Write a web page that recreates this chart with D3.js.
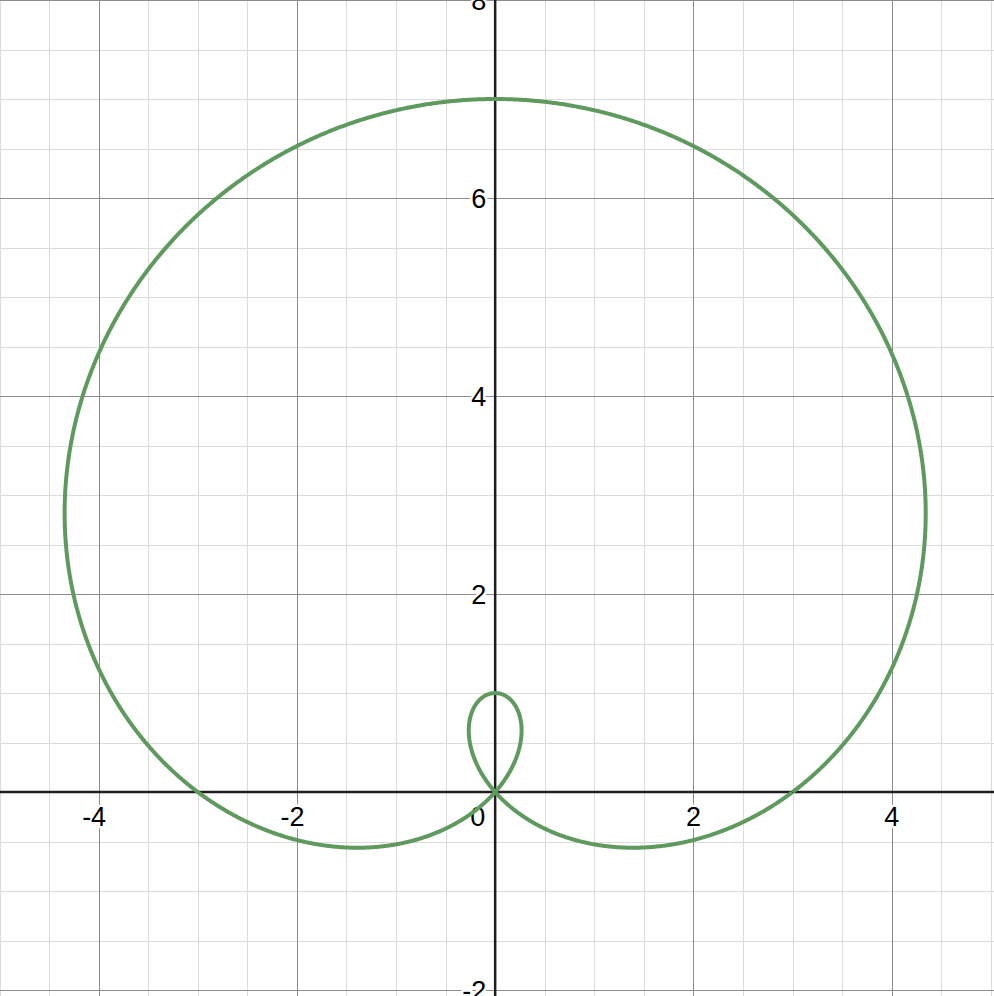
<!DOCTYPE html>
<html><head><meta charset="utf-8">
<script src="https://cdn.jsdelivr.net/npm/d3@7"></script>
<style>html,body{margin:0;padding:0;background:#fff;overflow:hidden}</style>
</head><body>
<svg id="c" width="994" height="996"></svg>
<script>
// Polar curve r = a + b·sin(θ) (limaçon with inner loop)
const curveA = 3;
const curveB = 4;
const xTicks = [-4, -2, 2, 4];
const yTicks = [-2, 2, 4, 6, 8];
const xDomain = [-4.995, 5.032];
const yDomain = [8.0, -2.06];

const W = 994, H = 996;
const svg = d3.select("#c");
const x = d3.scaleLinear().domain(xDomain).range([0, W]);
const y = d3.scaleLinear().domain([yDomain[0], yDomain[1]]).range([0, H]);

// minor grid every 0.5
const minorX = d3.range(-5, 5.01, 0.5).filter(v => Math.abs(v % 2) > 1e-9);
const minorY = d3.range(-2, 8.01, 0.5).filter(v => Math.abs(v % 2) > 1e-9);
const g = svg.append("g");
g.selectAll(".mx").data(minorX).join("line")
  .attr("x1", d => Math.round(x(d)) + 0.5).attr("x2", d => Math.round(x(d)) + 0.5)
  .attr("y1", 0).attr("y2", H).attr("stroke", "#dcdcdc").attr("stroke-width", 1);
g.selectAll(".my").data(minorY).join("line")
  .attr("y1", d => Math.round(y(d)) + 0.5).attr("y2", d => Math.round(y(d)) + 0.5)
  .attr("x1", 0).attr("x2", W).attr("stroke", "#dcdcdc").attr("stroke-width", 1);
// major grid every 2
const majorX = d3.range(-4, 5, 2).filter(v => v !== 0);
const majorY = d3.range(-2, 9, 2).filter(v => v !== 0);
g.selectAll(".Mx").data(majorX).join("line")
  .attr("x1", d => Math.round(x(d)) + 0.5).attr("x2", d => Math.round(x(d)) + 0.5)
  .attr("y1", 0).attr("y2", H).attr("stroke", "#8c8c8c").attr("stroke-width", 1);
g.selectAll(".My").data(majorY).join("line")
  .attr("y1", d => Math.round(y(d)) + 0.5).attr("y2", d => Math.round(y(d)) + 0.5)
  .attr("x1", 0).attr("x2", W).attr("stroke", "#8c8c8c").attr("stroke-width", 1);

// axes
svg.append("line").attr("x1", 0).attr("x2", W).attr("y1", y(0)).attr("y2", y(0))
  .attr("stroke", "#1e1e1e").attr("stroke-width", 2.5);
svg.append("line").attr("y1", 0).attr("y2", H).attr("x1", x(0)).attr("x2", x(0))
  .attr("stroke", "#1e1e1e").attr("stroke-width", 2.5);

// labels
const fmt = d => d < 0 ? "-" + Math.abs(d) : String(d);
const lab = svg.append("g").attr("font-family", "Liberation Sans, Arial, sans-serif")
  .attr("font-size", 27).attr("fill", "#000")
  .attr("stroke", "#fff").attr("stroke-width", 5).attr("paint-order", "stroke")
  .attr("stroke-linejoin", "round");
lab.selectAll(".xl").data(xTicks).join("text")
  .attr("x", d => x(d) - (d < 0 ? 4.5 : 0)).attr("y", y(0) + 34)
  .attr("text-anchor", "middle").text(fmt);
lab.selectAll(".yl").data(yTicks).join("text")
  .attr("x", x(0) - 9).attr("y", d => y(d) + 10)
  .attr("text-anchor", "end").text(fmt);
lab.append("text").attr("x", x(0) - 10).attr("y", y(0) + 34).attr("text-anchor", "end").text("0");

// curve
const thetas = d3.range(0, 2 * Math.PI + 0.0005, 0.002);
const pts = thetas.map(t => { const r = curveA + curveB * Math.sin(t); return [r * Math.cos(t), r * Math.sin(t)]; });
svg.append("path").datum(pts)
  .attr("d", d3.line().x(d => x(d[0])).y(d => y(d[1])))
  .attr("fill", "none").attr("stroke", "#5e9a5e").attr("stroke-width", 4)
  .attr("stroke-linejoin", "round");
</script>
</body></html>
